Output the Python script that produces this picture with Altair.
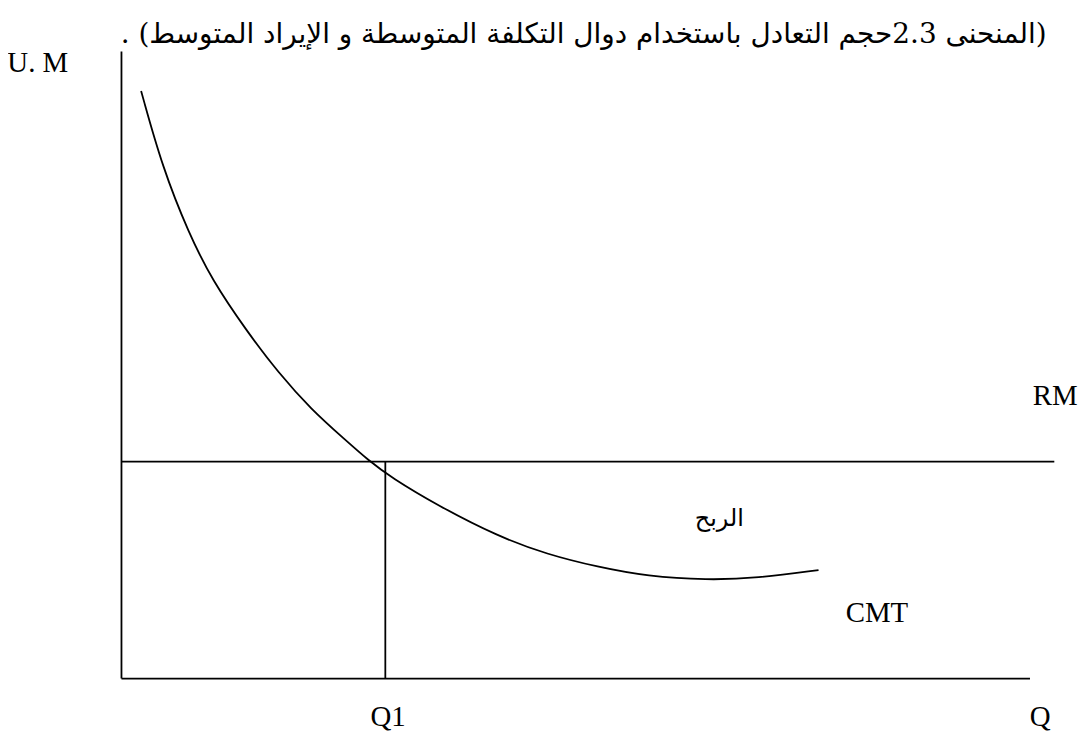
import altair as alt
import pandas as pd

# Average total cost curve (CMT): quantity vs money units
cmt_q = [2.1, 4.4, 7.2, 9.7, 13.3, 16.8, 20.3, 23.9, 26.4, 28.8, 33.8, 40.2,
         45.5, 50.9, 56.2, 62.6, 67.9, 74.5]
cmt_v = [93.7, 81.4, 71.0, 63.5, 55.6, 48.7, 42.9, 38.1, 34.8, 32.1, 27.6, 22.7,
         19.8, 17.8, 16.3, 15.7, 16.0, 17.3]

# Average revenue (RM) level, equilibrium quantity Q1, axis extents
rm_level = 34.6
rm_end = 99.7
q1 = 28.2
x_axis_end = 97.1
y_axis_top = 100.0

# Labels
label_text = ["RM", "CMT", "الربح", "Q1", "Q", "U. M"]
label_q = [97.4, 77.4, 63.9, 28.5, 98.2, -12.2]
label_v = [43.7, 9.0, 24.3, -7.5, -7.5, 96.7]
label_align = ["left", "left", "center", "center", "center", "left"]

title_text = "\u202B(المنحنى 2.3حجم التعادل باستخدام دوال التكلفة المتوسطة و الإيراد المتوسط) .\u202C"
title_q = 49.4
title_v = 101.3

xs = alt.Scale(domain=[0, 100], nice=False, zero=False)
ys = alt.Scale(domain=[0, 100], nice=False, zero=False)

curve_df = pd.DataFrame({"q": cmt_q, "v": cmt_v})
rules_df = pd.DataFrame({
    "q": [0, 0, 0, q1],
    "q2": [0, x_axis_end, rm_end, q1],
    "v": [0, 0, rm_level, 0],
    "v2": [y_axis_top, 0, rm_level, rm_level],
})
labels_df = pd.DataFrame({"t": label_text, "q": label_q, "v": label_v, "a": label_align})
title_df = pd.DataFrame({"t": [title_text], "q": [title_q], "v": [title_v]})

X = alt.X("q:Q", scale=xs, axis=None)
Y = alt.Y("v:Q", scale=ys, axis=None)

curve = alt.Chart(curve_df).mark_line(color="black", strokeWidth=1.8, interpolate="basis").encode(
    x=X, y=Y,
)

rules = alt.Chart(rules_df).mark_rule(color="black", strokeWidth=1.8).encode(
    x=X, x2="q2:Q", y=Y, y2="v2:Q",
)

latin_left = alt.Chart(labels_df[(labels_df["a"] == "left")]).mark_text(
    align="left", baseline="alphabetic", font="Liberation Serif", fontSize=29, color="black"
).encode(x=X, y=Y, text="t:N")

latin_center = alt.Chart(labels_df[(labels_df["a"] == "center") & (labels_df["t"] != "الربح")]).mark_text(
    align="center", baseline="alphabetic", font="Liberation Serif", fontSize=29, color="black"
).encode(x=X, y=Y, text="t:N")

arabic = alt.Chart(labels_df[labels_df["t"] == "الربح"]).mark_text(
    align="center", baseline="alphabetic", font="DejaVu Sans", fontSize=24, color="black"
).encode(x=X, y=Y, text="t:N")

title = alt.Chart(title_df).mark_text(
    align="center", baseline="alphabetic", font="DejaVu Serif, DejaVu Sans", fontSize=28, color="black"
).encode(x=X, y=Y, text="t:N")

chart = alt.layer(rules, curve, latin_left, latin_center, arabic, title).properties(
    width=940,
    height=630,
    background="white",
    autosize=alt.AutoSizeParams(type="none"),
    padding={"left": 114, "top": 42, "right": 25, "bottom": 62},
).configure_view(strokeWidth=0, stroke="transparent")

chart.save("out.html", embed_options={"renderer": "svg", "actions": False})
